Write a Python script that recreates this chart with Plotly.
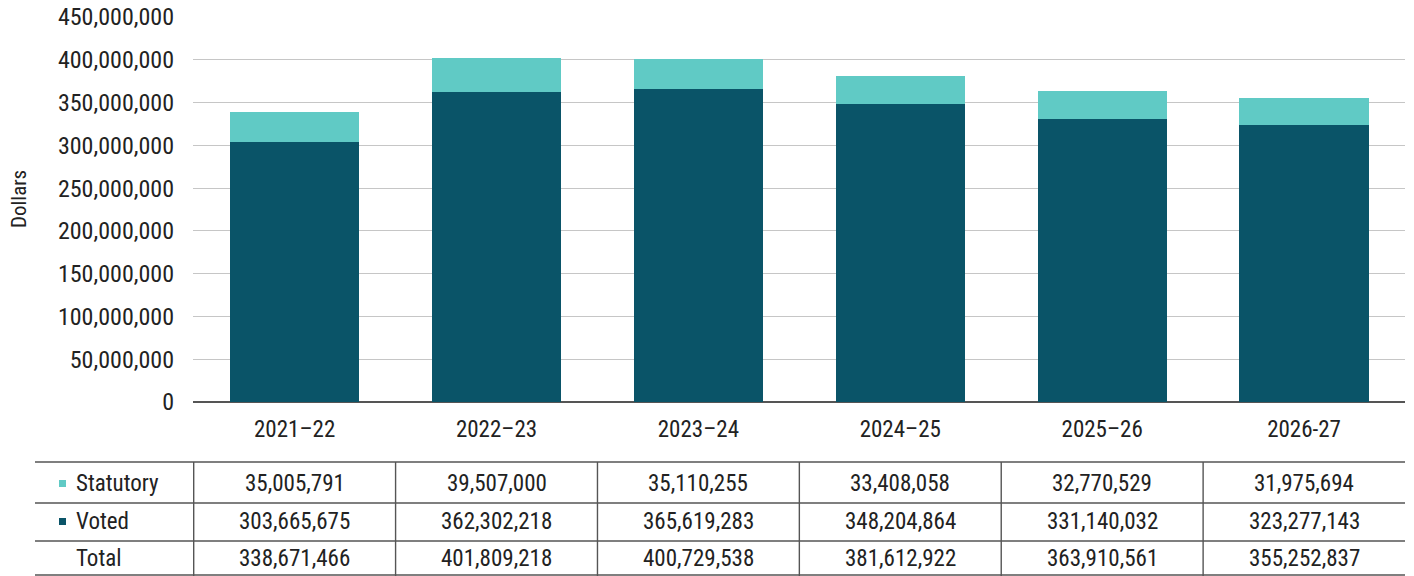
import plotly.graph_objects as go

categories = ["2021\u201322", "2022\u201323", "2023\u201324", "2024\u201325", "2025\u201326", "2026-27"]
statutory = [35005791, 39507000, 35110255, 33408058, 32770529, 31975694]
voted = [303665675, 362302218, 365619283, 348204864, 331140032, 323277143]
total = [338671466, 401809218, 400729538, 381612922, 363910561, 355252837]
row_labels = ["Statutory", "Voted", "Total"]
y_ticks = list(range(0, 450000001, 50000000))
y_title = "Dollars"

W, H = 1414, 576
FONT = "Liberation Sans Narrow, Arial Narrow, Roboto Condensed, Liberation Sans, sans-serif"
C_STAT = "#60CAC5"
C_VOTE = "#0A5468"
TXT = "#222222"

def px(x):
    return x / W

def py(y):
    return 1 - y / H

fig = go.Figure()
fig.add_trace(go.Bar(x=categories, y=voted, name="Voted", marker_color=C_VOTE, marker_line_width=0))
fig.add_trace(go.Bar(x=categories, y=statutory, name="Statutory", marker_color=C_STAT, marker_line_width=0))

fig.update_layout(
    width=W, height=H, barmode="stack", bargap=0.36,
    margin=dict(l=0, r=0, t=0, b=0, autoexpand=False),
    plot_bgcolor="white", paper_bgcolor="white",
    showlegend=False,
    font=dict(family=FONT, size=23, color=TXT),
    xaxis=dict(domain=[px(193), px(1405)], showgrid=False, showline=False, ticks="",
               automargin=False, ticklabelstandoff=11,
               tickfont=dict(size=23, color=TXT)),
    yaxis=dict(domain=[py(402), py(17)], range=[0, 450000000], tickvals=y_ticks,
               tickformat=",d", showgrid=True, gridcolor="#c6c6c6", gridwidth=1.3,
               zeroline=True, zerolinecolor="#555555", zerolinewidth=1.5,
               automargin=False,
               ticks="", ticklabelstandoff=18, tickfont=dict(size=24, color=TXT)),
)

# Table under the chart
row_y = [483, 521, 558]
hlines = [462, 503, 541, 575]
shapes = []
for yy in hlines:
    shapes.append(dict(type="line", xref="paper", yref="paper", x0=px(35), x1=px(1405),
                       y0=py(yy), y1=py(yy), line=dict(color="#555555", width=1.4)))
for i in range(len(categories)):
    shapes.append(dict(type="line", xref="x", yref="paper", x0=i - 0.5, x1=i - 0.5,
                       y0=py(462), y1=py(576), line=dict(color="#555555", width=1.4)))
# legend swatches
for yy, col in zip(row_y[:2], [C_STAT, C_VOTE]):
    shapes.append(dict(type="rect", xref="paper", yref="paper", x0=px(59), x1=px(66),
                       y0=py(yy + 4), y1=py(yy - 3), fillcolor=col, line=dict(width=0)))

annotations = [dict(text=y_title, xref="paper", yref="paper", x=px(19), y=py(199),
                    xanchor="center", yanchor="middle", textangle=-90, showarrow=False,
                    font=dict(size=21, color=TXT))]
for lab, yy in zip(row_labels, row_y):
    annotations.append(dict(text=lab, xref="paper", yref="paper", x=px(74), y=py(yy),
                            xanchor="left", yanchor="middle", showarrow=False,
                            font=dict(size=23, color=TXT)))
for vals, yy in zip([statutory, voted, total], row_y):
    for c, v in zip(categories, vals):
        annotations.append(dict(text=f"{v:,}", xref="x", yref="paper", x=c, y=py(yy),
                                xanchor="center", yanchor="middle", showarrow=False,
                                font=dict(size=23, color=TXT)))

fig.update_layout(shapes=shapes, annotations=annotations)
fig.write_html("out.html")
